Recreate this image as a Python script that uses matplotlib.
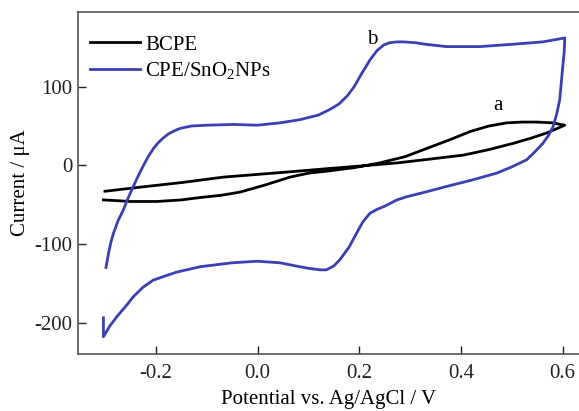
import matplotlib
matplotlib.use("Agg")
import matplotlib.pyplot as plt

plt.rcParams['font.family'] = ['Liberation Serif', 'DejaVu Serif']
plt.rcParams['axes.unicode_minus'] = False
plt.rcParams['mathtext.fontset'] = 'custom'
plt.rcParams['mathtext.rm'] = 'Liberation Serif'

# BCPE (black)
bcpe_fwd_x = [-0.303, -0.25, -0.198, -0.15, -0.113, -0.07, -0.034, 0.015, 0.064, 0.10, 0.142, 0.19, 0.24, 0.29, 0.339, 0.38, 0.418, 0.455, 0.49, 0.52, 0.549, 0.58, 0.604]
bcpe_fwd_y = [-44, -46, -46, -44, -41, -38, -34, -25, -15, -10, -7, -3, 3, 11, 23, 33, 43, 50, 54, 55, 55, 54, 51]
bcpe_rev_x = [0.604, 0.568, 0.535, 0.503, 0.455, 0.405, 0.34, 0.274, 0.2, 0.142, 0.05, -0.067, -0.15, -0.22, -0.3]
bcpe_rev_y = [51, 41, 34, 28, 20, 13, 8, 3, -1, -4, -9, -15, -22, -27, -33]

# CPE/SnO2NPs (blue)
sno2_fwd_x = [-0.298, -0.293, -0.288, -0.283, -0.274, -0.264, -0.256, -0.245, -0.235, -0.225, -0.215, -0.205, -0.195, -0.185, -0.175, -0.163, -0.152, -0.13, -0.1, -0.047, 0.0, 0.044, 0.083, 0.12, 0.142, 0.16, 0.176, 0.19, 0.205, 0.221, 0.235, 0.248, 0.26, 0.275, 0.286, 0.31, 0.33, 0.371, 0.437, 0.502, 0.561, 0.604]
sno2_fwd_y = [-130, -112, -97, -86, -70, -57, -44, -28, -14, -1, 11, 21, 29, 35, 40, 44, 47, 50, 51, 52, 51, 54, 58, 64, 71, 78, 88, 100, 117, 134, 146, 153, 156, 157, 157, 156, 154, 151, 151, 154, 157, 162]
sno2_rev_x = [0.604, 0.603, 0.600, 0.597, 0.594, 0.588, 0.581, 0.572, 0.561, 0.545, 0.529, 0.50, 0.47, 0.42, 0.371, 0.33, 0.293, 0.274, 0.25, 0.235, 0.221, 0.207, 0.195, 0.18, 0.162, 0.15, 0.135, 0.123, 0.10, 0.083, 0.044, 0.0, -0.05, -0.113, -0.16, -0.205, -0.225, -0.244, -0.26, -0.276, -0.29, -0.303, -0.303]
sno2_rev_y = [162, 145, 125, 104, 83, 65, 49, 38, 28, 17, 7, -2, -10, -19, -27, -34, -40, -44, -52, -56, -61, -72, -86, -104, -120, -128, -133, -133, -131, -129, -124, -122, -124, -129, -136, -146, -155, -167, -180, -192, -204, -218, -194]

fig = plt.figure(figsize=(5.79, 4.11), dpi=100)
ax = fig.add_axes([78/579, 1-354/411, 1-78/579, (354-12)/411])

blue = '#3a3fb2'
ax.plot(bcpe_fwd_x + bcpe_rev_x, bcpe_fwd_y + bcpe_rev_y, color='black', lw=2.0,
        solid_joinstyle='round', label='BCPE')
ax.plot(sno2_fwd_x + sno2_rev_x, sno2_fwd_y + sno2_rev_y, color=blue, lw=2.0,
        solid_joinstyle='round', label='CPE/SnO$_2$NPs')

ax.set_xlim(-0.353, 0.632)
ax.set_ylim(-240, 195)
ax.set_xticks([-0.2, 0.0, 0.2, 0.4, 0.6])
ax.set_xticklabels(['-0.2', '0.0', '0.2', '0.4', '0.6'])
ax.set_yticks([-200, -100, 0, 100])
ax.tick_params(direction='in', length=6, width=1, labelsize=15, colors='#222222')
ax.tick_params(axis='x', pad=7)
ax.tick_params(axis='y', pad=4)
for s in ['left', 'top', 'bottom']:
    ax.spines[s].set_color('#555555')
    ax.spines[s].set_linewidth(1.2)
ax.spines['right'].set_visible(False)

ax.set_xlabel('Potential vs. Ag/AgCl / V', fontsize=15, labelpad=5)
ax.set_ylabel('Current / μA', fontsize=15, labelpad=3)

ax.text(0.472, 64, 'a', fontsize=15, ha='center', va='bottom')
ax.text(0.225, 148, 'b', fontsize=15, ha='center', va='bottom')

ax.legend(loc='upper left', frameon=False, fontsize=15, handlelength=2.4,
          bbox_to_anchor=(-0.005, 0.975), borderaxespad=0.3, labelspacing=0.25, handletextpad=0.25)

fig.savefig('out.png', dpi=100)
